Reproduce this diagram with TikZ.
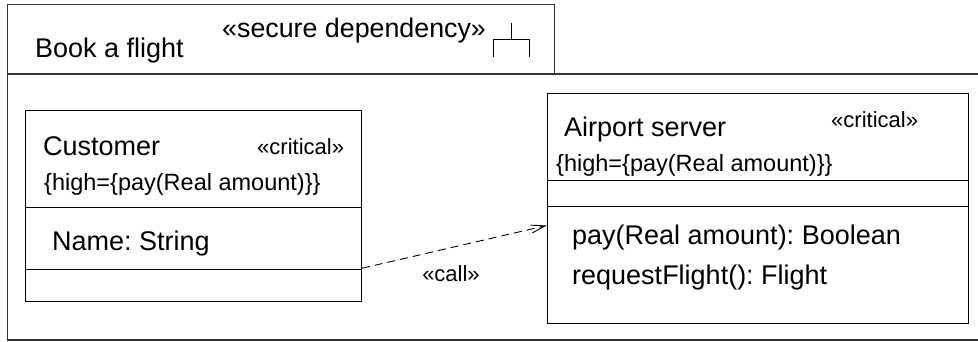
\documentclass[tikz,border=0pt]{standalone}
\usepackage{fontspec}
\setmainfont{Liberation Sans}
\usetikzlibrary{arrows.meta}
\frenchspacing
\tikzset{
  x=1pt, y=-1pt,
  txt/.style={inner sep=0pt, anchor=base west},
  bigtxt/.style={txt, font=\fontsize{27}{31}\selectfont},
  smalltxt/.style={txt, font=\fontsize{22}{26}\selectfont},
  cstrtxt/.style={txt, font=\fontsize{23.5}{28}\selectfont},
  framelin/.style={draw=black!80, line width=1.2pt},
  umlbox/.style={draw=black, line width=1pt, rectangle, inner sep=0pt, anchor=north west},
  comp/.style={draw=black, line width=1pt},
  deplink/.style={draw=black, line width=0.9pt, dash pattern=on 8pt off 5pt, -{Straight Barb[length=14pt,width=8pt]}},
}
\begin{document}
\begin{tikzpicture}
\useasboundingbox (0,0) rectangle (978,342);
% frame
\draw[framelin] (7.5,4.3) rectangle (554.3,74);
\draw[framelin] (978,74) -- (7.5,74) -- (7.5,340) -- (978,340);
\node[bigtxt] (title) at (35,58) {Book a flight};
\node[bigtxt, font=\fontsize{26.8}{31}\selectfont] (secdep) at (222,38) {«secure dependency»};
% dependency symbol
\draw[comp] (511,22.7) -- (511,40);
\draw[comp] (493.3,57.3) -- (493.3,40) -- (529,40) -- (529,57.3);
% Customer class
\node[umlbox, minimum width=336pt, minimum height=190.7pt] (cust) at (25,110) {};
\draw[comp] ([yshift=-97.7pt]cust.north west) -- ([yshift=-97.7pt]cust.north east);
\draw[comp] ([yshift=-159.3pt]cust.north west) -- ([yshift=-159.3pt]cust.north east);
\node[bigtxt] (custname) at (43,156) {Customer};
\node[smalltxt] (custst) at (257,155) {«critical»};
\node[cstrtxt] (custcs) at (44,191) {\{high=\{pay(Real amount)\}\}};
\node[bigtxt] (custattr) at (52,250) {Name: String};
% Airport server class
\node[umlbox, minimum width=421.6pt, minimum height=230.6pt] (air) at (546.7,92.7) {};
\draw[comp] ([yshift=-88pt]air.north west) -- ([yshift=-88pt]air.north east);
\draw[comp] ([yshift=-114pt]air.north west) -- ([yshift=-114pt]air.north east);
\node[bigtxt] (airname) at (564,137) {Airport server};
\node[smalltxt] (airst) at (831,128) {«critical»};
\node[cstrtxt] (aircs) at (556,172) {\{high=\{pay(Real amount)\}\}};
\node[bigtxt] (airop1) at (572,244) {pay(Real amount): Boolean};
\node[bigtxt] (airop2) at (572,284) {requestFlight(): Flight};
% call dependency
\draw[deplink] ([yshift=-62.4pt]cust.east) -- ([yshift=-17pt]air.west);
\node[smalltxt, anchor=base] (calllbl) at (451,281) {«call»};
\end{tikzpicture}
\end{document}
